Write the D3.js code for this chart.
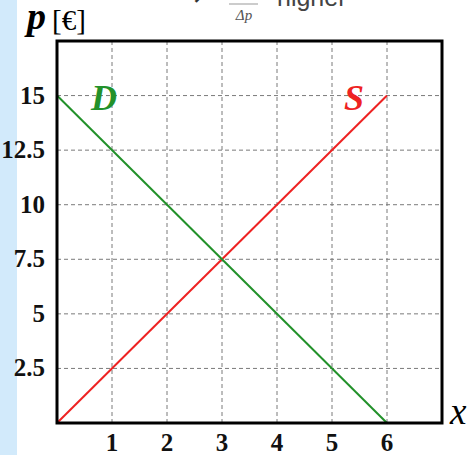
<!DOCTYPE html>
<html>
<head>
<meta charset="utf-8">
<script src="https://cdn.jsdelivr.net/npm/d3@7/dist/d3.min.js"></script>
<style>
    body {margin: 0; background: #fff;}
    svg text {font-family: "Liberation Serif", "DejaVu Serif", serif;}
    .grid line {stroke: #7a7a7a; stroke-width: 1; stroke-dasharray: 4,3;}
    .tick-lbl {font-weight: bold; font-size: 25px; fill: #111;}
</style>
</head>
<body>
<div id="container"></div>
<script>
// x ticks, p ticks and the two linear curves
const xTicks = [1, 2, 3, 4, 5, 6];
const pTicks = [2.5, 5, 7.5, 10, 12.5, 15];
const pTickLabels = ['2.5', '5', '7.5', '10', '12.5', '15'];
const demandX = [0, 6];
const demandP = [15, 0];
const supplyX = [0, 6];
const supplyP = [0, 15];

const w = 467, h = 455;
const margin = {left: 57, top: 41, right: 25, bottom: 32};

const svg = d3.select('#container').append('svg')
    .attr('width', w)
    .attr('height', h);

// light blue strip on the left
svg.append('rect').attr('x', 0).attr('y', 0).attr('width', 17).attr('height', h).attr('fill', '#d2eafb');

const x = d3.scaleLinear().domain([0, 7]).range([margin.left, w - margin.right]);
const y = d3.scaleLinear().domain([0, 17.5]).range([h - margin.bottom, margin.top]);

// clipped heading text at the top
const head = svg.append('g').attr('fill', '#333');
head.append('text').attr('x', 181).attr('y', 5)
    .style('font-family', 'DejaVu Sans, sans-serif').style('font-size', '26px').style('font-weight', 'bold').text('⇒');
head.append('line').attr('x1', 229).attr('x2', 258).attr('y1', 4).attr('y2', 4).attr('stroke', '#999').attr('stroke-width', 1);
head.append('text').attr('x', 244).attr('y', 20).attr('text-anchor', 'middle')
    .style('font-size', '15px').style('font-style', 'italic').attr('fill', '#555').text('Δp');
head.append('text').attr('x', 277).attr('y', 6)
    .style('font-family', 'Liberation Sans, Arial, sans-serif').style('font-size', '25px').attr('fill', '#444').text('higher');

// dashed grid
const grid = svg.append('g').attr('class', 'grid');
grid.selectAll('.vx').data(xTicks).join('line')
    .attr('x1', d => x(d)).attr('x2', d => x(d))
    .attr('y1', y(17.5)).attr('y2', y(0));
grid.selectAll('.hy').data(pTicks).join('line')
    .attr('x1', x(0)).attr('x2', x(7))
    .attr('y1', d => y(d)).attr('y2', d => y(d));

// curves
const line = d3.line().x(d => x(d[0])).y(d => y(d[1]));
svg.append('path')
    .attr('d', line(supplyX.map((v, i) => [v, supplyP[i]])))
    .attr('stroke', '#ee2222').attr('stroke-width', 2).attr('fill', 'none');
svg.append('path')
    .attr('d', line(demandX.map((v, i) => [v, demandP[i]])))
    .attr('stroke', '#22912a').attr('stroke-width', 2).attr('fill', 'none');

// frame
svg.append('rect')
    .attr('x', x(0)).attr('y', y(17.5))
    .attr('width', x(7) - x(0)).attr('height', y(0) - y(17.5))
    .attr('fill', 'none').attr('stroke', '#000').attr('stroke-width', 3);

// tick labels
svg.selectAll('.xl').data(xTicks).join('text')
    .attr('class', 'tick-lbl')
    .attr('x', d => x(d)).attr('y', y(0) + 28)
    .attr('text-anchor', 'middle')
    .text(d => d);
svg.selectAll('.yl').data(pTicks).join('text')
    .attr('class', 'tick-lbl')
    .attr('x', 45).attr('y', d => y(d) + 8)
    .attr('text-anchor', 'end')
    .text((d, i) => pTickLabels[i]);

// axis titles
svg.append('text').attr('x', 27).attr('y', 29)
    .style('font-size', '38px').style('font-weight', 'bold').style('font-style', 'italic').text('p');
svg.append('text').attr('x', 52).attr('y', 30)
    .style('font-size', '29px').text('[€]');
svg.append('text').attr('x', 450).attr('y', y(0) + 1)
    .style('font-size', '37px').style('font-style', 'italic').text('x');

// curve labels
svg.append('text').attr('x', 91).attr('y', y(15) + 14)
    .style('font-size', '36px').style('font-weight', 'bold').style('font-style', 'italic')
    .attr('fill', '#22912a').text('D');
svg.append('text').attr('x', 344).attr('y', y(15) + 14)
    .style('font-size', '36px').style('font-weight', 'bold').style('font-style', 'italic')
    .attr('fill', '#ee2222').text('S');
</script>
</body>
</html>
